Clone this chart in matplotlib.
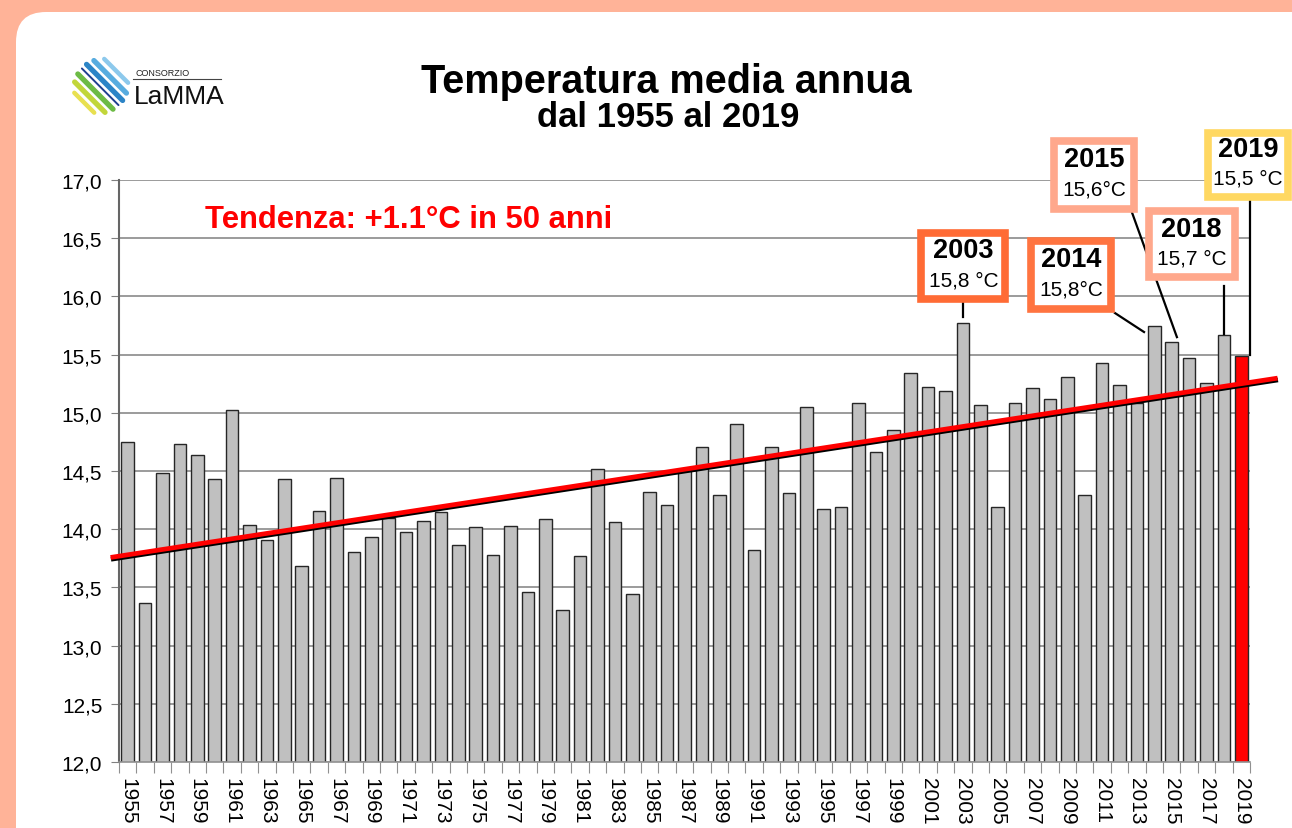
import numpy as np
import matplotlib.pyplot as plt
import matplotlib.patheffects as pe
from matplotlib.patches import Rectangle, FancyBboxPatch
from matplotlib.transforms import IdentityTransform

# Annual mean temperature (deg C), 1955-2019
years = list(range(1955, 2020))
temps = [14.75, 13.37, 14.48, 14.73, 14.64, 14.43, 15.02, 14.04, 13.91, 14.43,
         13.68, 14.16, 14.44, 13.80, 13.93, 14.10, 13.98, 14.07, 14.15, 13.86,
         14.02, 13.78, 14.03, 13.46, 14.09, 13.31, 13.77, 14.52, 14.06, 13.44,
         14.32, 14.21, 14.51, 14.71, 14.29, 14.90, 13.82, 14.71, 14.31, 15.05,
         14.17, 14.19, 15.08, 14.66, 14.85, 15.34, 15.22, 15.19, 15.77, 15.07,
         14.19, 15.08, 15.21, 15.12, 15.31, 14.29, 15.43, 15.24, 15.08, 15.75,
         15.61, 15.47, 15.26, 15.67, 15.49]
# linear trend (value at 1955 and at 2019)
trend_1955 = 13.78
trend_2019 = 15.25

# highlighted years
annot_years = [2003, 2014, 2015, 2018, 2019]
annot_texts = ['15,8 °C', '15,8°C', '15,6°C', '15,7 °C', '15,5 °C']
annot_colors = ['#FF6B35', '#FF7440', '#FFA88C', '#FFA88C', '#FFD862']

SANS = ['Liberation Sans', 'DejaVu Sans']

W, H = 1292, 829
fig = plt.figure(figsize=(W / 100, H / 100), dpi=100)
fig.patch.set_facecolor('#FFB398')
fig.add_artist(FancyBboxPatch((16, -60), 1400, H - 13 + 60, transform=IdentityTransform(),
                              boxstyle='round,pad=0,rounding_size=30', fc='white', ec='none',
                              zorder=-10))

ax = fig.add_axes([119 / W, 1 - 763 / H, 1131 / W, 582 / H])
ax.set_facecolor('none')
x = np.arange(len(years))
colors = ['#C0C0C0'] * (len(years) - 1) + ['#FF0000']
ax.bar(x, temps, width=0.73, color=colors, edgecolor='#262626', linewidth=1.0, zorder=2)

ax.set_xlim(-0.5, len(years) - 0.5)
ax.set_ylim(12, 17)
yt = np.arange(12, 17.01, 0.5)
ax.set_yticks(yt)
ax.set_yticklabels([f'{v:.1f}'.replace('.', ',') for v in yt], family=SANS, fontsize=15)
ax.tick_params(axis='y', length=6, color='#808080', pad=6)
ax.yaxis.grid(True, color='#8a8a8a', lw=1.2, zorder=0)
ax.set_axisbelow(True)

ax.set_xticks(np.arange(-0.5, len(years), 1))
ax.set_xticklabels([])
ax.tick_params(axis='x', which='major', length=8, color='#909090')
ax.set_xticks(x[::2], minor=True)
ax.set_xticklabels([str(y) for y in years[::2]], minor=True, rotation=270,
                   family=SANS, fontsize=15)
ax.tick_params(axis='x', which='minor', length=0, pad=11)

for s in ['top', 'right']:
    ax.spines[s].set_visible(False)
ax.spines['left'].set_color('#666666')
ax.spines['left'].set_linewidth(1.5)
ax.spines['bottom'].set_color('#909090')
ax.spines['bottom'].set_linewidth(1.2)

# trend line
slope = (trend_2019 - trend_1955) / (years[-1] - years[0])
tx = np.array([-0.85, 65.95])
ax.plot(tx, trend_1955 + slope * tx, color='#FF0000', lw=3.4, clip_on=False, zorder=4,
        path_effects=[pe.SimpleLineShadow(offset=(0.3, -1.3), shadow_color='black', alpha=1.0),
                      pe.Normal()])

# annotation boxes: (box centre x, box centre y, width, height) and leader line
boxes = [(48.03, 16.265, 4.83, 0.567), (54.24, 16.184, 4.6, 0.576), (55.56, 17.043, 4.6, 0.576),
         (61.14, 16.446, 4.94, 0.567), (64.38, 17.133, 4.6, 0.55)]
leaders = [((48.0, 15.95), (48.0, 15.82)), ((56.74, 15.857), (58.41, 15.694)),
           ((57.6, 16.77), (60.3, 15.65)), ((63.0, 16.09), (63.0, 15.68)),
           ((64.5, 16.85), (64.5, 15.5))]
for yr, txt, col, (cx, cy, bw, bh), (p0, p1) in zip(annot_years, annot_texts, annot_colors, boxes, leaders):
    ax.plot([p0[0], p1[0]], [p0[1], p1[1]], color='black', lw=1.6, clip_on=False, zorder=5)
    ax.add_patch(Rectangle((cx - bw / 2, cy - bh / 2), bw, bh, fc='white', ec=col, lw=5.5,
                           clip_on=False, zorder=6))
    ax.text(cx, cy + 0.135, str(yr), ha='center', va='center', fontsize=19.5, weight='bold',
            family=SANS, zorder=7, clip_on=False)
    ax.text(cx, cy - 0.12, txt, ha='center', va='center', fontsize=15,
            family=SANS, zorder=7, clip_on=False)

# titles
fig.text(666 / W, 1 - 93 / H, 'Temperatura media annua', ha='center', va='baseline',
         fontsize=28.5, weight='bold', family=SANS)
fig.text(668 / W, 1 - 127 / H, 'dal 1955 al 2019', ha='center', va='baseline',
         fontsize=25, weight='bold', family=SANS)
fig.text(205 / W, 1 - 228 / H, 'Tendenza: +1.1°C in 50 anni', ha='left', va='baseline',
         fontsize=22.3, weight='bold', color='#FF0000', family=SANS)

# logo
lax = fig.add_axes([70 / W, 1 - 118 / H, 62 / W, 62 / H])
lax.set_xlim(-1.1, 1.1)
lax.set_ylim(-1.1, 1.1)
lax.axis('off')
stripe_off = [-0.84, -0.56, -0.28, -0.04, 0.18, 0.46, 0.76]
stripe_col = ['#E8E050', '#C2D63A', '#6DBB45', '#1F3F8F', '#2C84C6', '#58ACDF', '#8DC9EC']
stripe_lw = [3.2, 3.8, 3.8, 1.4, 3.8, 3.8, 3.2]
d = np.array([1, -1]) / np.sqrt(2)
n = np.array([1, 1]) / np.sqrt(2)
for o, c, lw in zip(stripe_off, stripe_col, stripe_lw):
    half = np.sqrt(max(1 - o ** 2, 0)) * 0.92
    p0 = o * n - half * d
    p1 = o * n + half * d
    lax.plot([p0[0], p1[0]], [p0[1], p1[1]], color=c, lw=lw, solid_capstyle='round')
fig.text(135 / W, 1 - 76 / H, 'CONSORZIO', fontsize=6.5, family=SANS, color='#222222')
fig.add_artist(plt.Line2D([133 / W, 221 / W], [1 - 80 / H, 1 - 80 / H], color='#444444', lw=0.8))
fig.text(134 / W, 1 - 104 / H, 'LaMMA', fontsize=19, family=SANS, color='#111111')

fig.savefig('out.png', dpi=100)
